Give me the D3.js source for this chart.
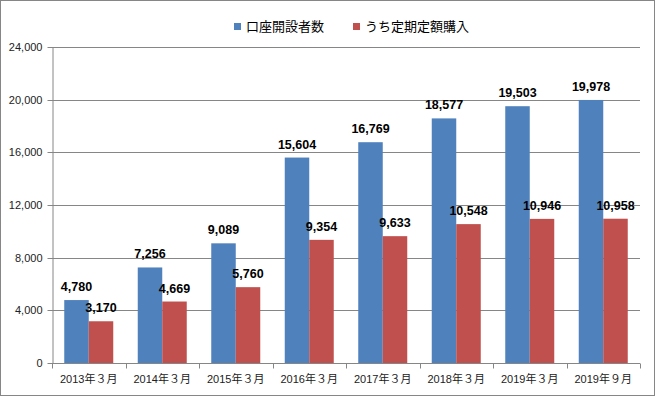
<!DOCTYPE html>
<html>
<head>
<meta charset="utf-8">
<script src="https://cdn.jsdelivr.net/npm/d3@7"></script>
<style>
  html, body { margin: 0; padding: 0; background: #fff; }
  svg { display: block; font-family: "Liberation Sans", Arial, "Noto Sans CJK JP", sans-serif; }
</style>
</head>
<body>
<div id="chart"></div>
<script>
// chart data
const categories = ['2013年３月', '2014年３月', '2015年３月', '2016年３月', '2017年３月', '2018年３月', '2019年３月', '2019年９月'];
const seriesNames = ['口座開設者数', 'うち定期定額購入'];
const accounts = [4780, 7256, 9089, 15604, 16769, 18577, 19503, 19978];
const regular = [3170, 4669, 5760, 9354, 9633, 10548, 10946, 10958];
const yTicks = [0, 4000, 8000, 12000, 16000, 20000, 24000];
const colors = ['#4f81bd', '#c0504d'];

const width = 655, height = 396;
const margin = { top: 47, right: 15, bottom: 33, left: 52 };

const svg = d3.select('#chart').append('svg')
  .attr('width', width)
  .attr('height', height);

// outer frame
svg.append('rect')
  .attr('x', 0.5).attr('y', 0.5)
  .attr('width', width - 1).attr('height', height - 1)
  .attr('fill', '#fff')
  .attr('stroke', '#868686');

const x0 = d3.scaleBand()
  .domain(categories)
  .range([margin.left, width - margin.right])
  .padding(0);

// two bars per category, half a bar of space on each side
const x1 = d3.scaleBand()
  .domain([0, 1])
  .range([0, x0.bandwidth()])
  .paddingInner(0)
  .paddingOuter(0.5);

const y = d3.scaleLinear()
  .domain([0, 24000])
  .range([height - margin.bottom, margin.top]);

const fmt = d3.format(',');

// gridlines
svg.append('g')
  .selectAll('line')
  .data(yTicks.filter(d => d > 0))
  .join('line')
  .attr('x1', margin.left)
  .attr('x2', width - margin.right)
  .attr('y1', d => Math.round(y(d)) + 0.5)
  .attr('y2', d => Math.round(y(d)) + 0.5)
  .attr('stroke', '#868686');

// y axis
const yAxis = svg.append('g')
  .attr('transform', `translate(${margin.left + 0.5},0)`)
  .call(d3.axisLeft(y).tickValues(yTicks).tickFormat(fmt).tickSize(5).tickSizeOuter(0));
yAxis.select('.domain').attr('stroke', '#868686');
yAxis.selectAll('.tick line').attr('stroke', '#868686')
  .attr('transform', 'translate(0,0.5)');
yAxis.selectAll('.tick text')
  .attr('font-size', 11)
  .attr('fill', '#222')
  .attr('x', -10)
  .attr('dy', '0.35em');
yAxis.selectAll('.tick').attr('transform', d => `translate(0,${Math.round(y(d))})`);

// bars
const series = [accounts, regular];
const groups = svg.append('g')
  .selectAll('g')
  .data(series)
  .join('g')
  .attr('fill', (d, i) => colors[i]);

groups.each(function (vals, si) {
  d3.select(this).selectAll('rect')
    .data(vals)
    .join('rect')
    .attr('x', (d, i) => x0(categories[i]) + x1(si))
    .attr('width', x1.bandwidth())
    .attr('y', d => y(d))
    .attr('height', d => y(0) - y(d));
});

// x axis
const xAxis = svg.append('g')
  .attr('transform', `translate(0,${Math.round(y(0)) + 0.5})`);
xAxis.append('line')
  .attr('x1', margin.left).attr('x2', width - margin.right)
  .attr('stroke', '#868686');
const xTicks = d3.range(categories.length + 1).map(i => margin.left + i * x0.bandwidth());
xAxis.selectAll('.xt')
  .data(xTicks)
  .join('line')
  .attr('class', 'xt')
  .attr('x1', d => Math.round(d) + 0.5)
  .attr('x2', d => Math.round(d) + 0.5)
  .attr('y1', 0).attr('y2', 5)
  .attr('stroke', '#868686');
xAxis.selectAll('text')
  .data(categories)
  .join('text')
  .attr('x', d => x0(d) + x0.bandwidth() / 2)
  .attr('y', 19)
  .attr('text-anchor', 'middle')
  .attr('font-size', 11)
  .attr('fill', '#222')
  .text(d => d);

// data labels
const labels = svg.append('g');
series.forEach((vals, si) => {
  labels.selectAll('.lab' + si)
    .data(vals)
    .join('text')
    .attr('class', 'lab' + si)
    .attr('x', (d, i) => x0(categories[i]) + x1(si) + x1.bandwidth() / 2)
    .attr('y', d => y(d) - 9)
    .attr('text-anchor', 'middle')
    .attr('font-size', 12.5)
    .attr('font-weight', 'bold')
    .attr('fill', '#000')
    .text(d => fmt(d));
});

// legend
const legend = svg.append('g');
const legendX = [234, 353];
seriesNames.forEach((name, i) => {
  legend.append('rect')
    .attr('x', legendX[i]).attr('y', 23)
    .attr('width', 7).attr('height', 7)
    .attr('fill', colors[i]);
  legend.append('text')
    .attr('x', legendX[i] + 12)
    .attr('y', 31)
    .attr('font-size', 13)
    .attr('font-family', '"Noto Sans CJK JP", sans-serif')
    .attr('fill', '#000')
    .text(name);
});
</script>
</body>
</html>
